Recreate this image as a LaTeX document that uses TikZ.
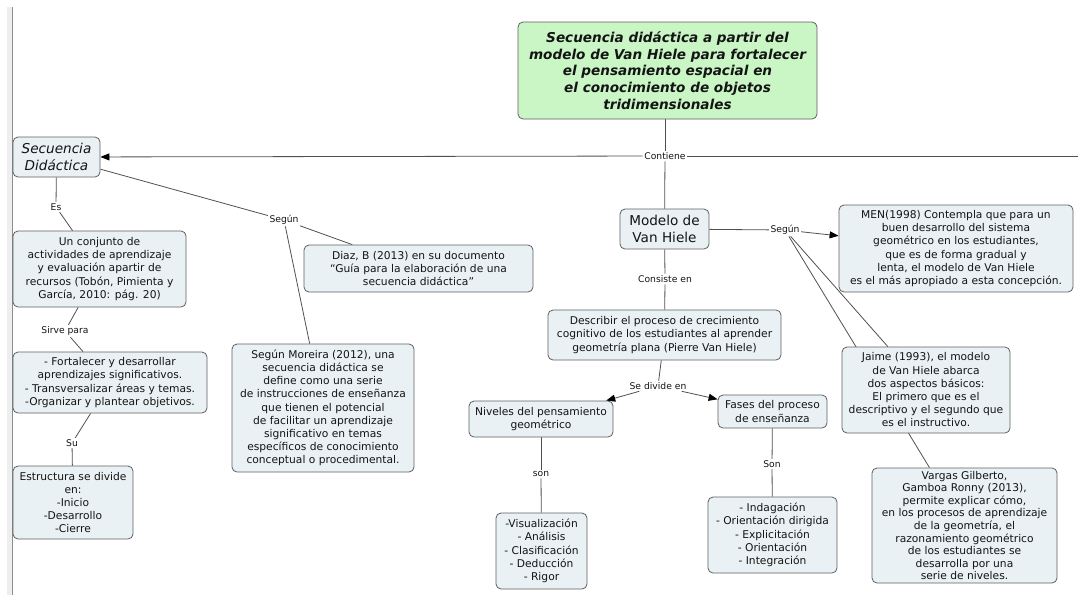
\documentclass[tikz,border=0pt]{standalone}
\usepackage{fontspec}
\setmainfont{DejaVu Sans}
\usetikzlibrary{arrows.meta}
\pgfdeclarelayer{bg}
\pgfsetlayers{bg,main}

\definecolor{boxfill}{RGB}{233,241,244}
\definecolor{boxline}{RGB}{95,95,95}
\definecolor{topfill}{RGB}{202,246,198}
\definecolor{linkcol}{RGB}{80,80,80}
\definecolor{txt}{RGB}{20,20,20}
\definecolor{strip}{RGB}{238,238,238}
\definecolor{stripline}{RGB}{140,140,145}

\tikzset{
  concept/.style={draw=boxline, fill=boxfill, line width=0.8pt, rounded corners=5pt,
    align=center, text=txt, inner sep=1pt, font=\fontsize{10.7}{13.2}\selectfont},
  bigconcept/.style={concept, font=\fontsize{13.6}{16.8}\selectfont\itshape},
  rootconcept/.style={concept, fill=topfill, font=\fontsize{13.6}{16.8}\selectfont\bfseries\itshape},
  linklabel/.style={fill=white, inner sep=1.5pt, text=txt, font=\fontsize{9.2}{11}\selectfont},
  link/.style={draw=linkcol, line width=0.8pt},
  arrowlink/.style={link, -{Triangle[length=9pt,width=7pt,color=black]}},
}

\begin{document}
\begin{tikzpicture}[x=1pt,y=-1pt]
\useasboundingbox (0,0) rectangle (1078,595);

% side strip of the page
\fill[strip] (7,7) rectangle (12,595);
\draw[stripline, line width=1.2pt] (12.6,7) -- (12.6,595);

% concepts
\node[rootconcept, minimum width=299, minimum height=97] (top) at (667.5,70.5)
  {Secuencia didáctica a partir del\\modelo de Van Hiele para fortalecer\\el pensamiento espacial en\\el conocimiento de objetos\\tridimensionales};

\node[bigconcept, minimum width=87, minimum height=40] (sec) at (56.5,157)
  {Secuencia\\Didáctica};

\node[concept, minimum width=173, minimum height=76] (conj) at (99.5,269)
  {Un conjunto de\\actividades de aprendizaje\\y evaluación apartir de\\recursos (Tobón, Pimienta y\\García, 2010: pág. 20)};

\node[concept, minimum width=194, minimum height=61] (fort) at (110,382.5)
  {- Fortalecer y desarrollar\\aprendizajes significativos.\\- Transversalizar áreas y temas.\\-Organizar y plantear objetivos.};

\node[concept, minimum width=120, minimum height=73] (estr) at (73,502.5)
  {Estructura se divide\\en:\\-Inicio\\-Desarrollo\\-Cierre};

\node[concept, minimum width=229, minimum height=47] (diaz) at (418.5,268.5)
  {Diaz, B (2013) en su documento\\“Guía para la elaboración de una\\secuencia didáctica”};

\node[concept, minimum width=182, minimum height=128] (mor) at (323,408)
  {Según Moreira (2012), una\\secuencia didáctica se\\define como una serie\\de instrucciones de enseñanza\\que tienen el potencial\\de facilitar un aprendizaje\\significativo en temas\\específicos de conocimiento\\conceptual o procedimental.};

\node[bigconcept, font=\fontsize{13.6}{16.8}\selectfont, minimum width=89, minimum height=40] (model) at (664.5,229)
  {Modelo de\\Van Hiele};

\node[concept, minimum width=233, minimum height=50] (desc) at (664.5,335)
  {Describir el proceso de crecimiento\\cognitivo de los estudiantes al aprender\\geometría plana (Pierre Van Hiele)};

\node[concept, minimum width=144, minimum height=36] (niv) at (541,419)
  {Niveles del pensamiento\\geométrico};

\node[concept, minimum width=91, minimum height=76] (vis) at (541.5,551)
  {-Visualización\\- Análisis\\- Clasificación\\- Deducción\\- Rigor};

\node[concept, minimum width=109, minimum height=33] (fases) at (772.5,411.5)
  {Fases del proceso\\de enseñanza};

\node[concept, minimum width=129, minimum height=76] (indag) at (772.5,535)
  {- Indagación\\- Orientación dirigida\\- Explicitación\\- Orientación\\- Integración};

\node[concept, minimum width=234, minimum height=87] (men) at (956,248.5)
  {MEN(1998) Contempla que para un\\buen desarrollo del sistema\\geométrico en los estudiantes,\\que es de forma gradual y\\lenta, el modelo de Van Hiele\\es el más apropiado a esta concepción.};

\node[concept, minimum width=168, minimum height=86] (jaime) at (926,390)
  {Jaime (1993), el modelo\\de Van Hiele abarca\\dos aspectos básicos:\\El primero que es el\\descriptivo y el segundo que\\es el instructivo.};

\node[concept, font=\fontsize{10.7}{12.6}\selectfont, minimum width=185, minimum height=115] (vargas) at (964.5,525.5)
  {Vargas Gilberto,\\Gamboa Ronny (2013),\\permite explicar cómo,\\en los procesos de aprendizaje\\de la geometría, el\\razonamiento geométrico\\de los estudiantes se\\desarrolla por una\\serie de niveles.};

% link phrases
\node[linklabel] (lcont) at (665,156) {Contiene};
\node[linklabel] (les) at (56,207) {Es};
\node[linklabel] (lsirve) at (65,331) {Sirve para};
\node[linklabel] (lsu) at (72,443) {Su};
\node[linklabel] (lsegA) at (284,220) {Según};
\node[linklabel] (lcons) at (665,279) {Consiste en};
\node[linklabel] (ldiv) at (658,386) {Se divide en};
\node[linklabel] (lson) at (541,474) {son};
\node[linklabel] (lSon) at (772,464) {Son};
\node[linklabel] (lsegB) at (785,230) {Según};

\coordinate (offright) at (1078,156);

% connectors, kept beneath the boxes
\begin{pgfonlayer}{bg}
  \draw[link] (lcont) -- (lcont |- top.south);
  \draw[arrowlink] (lcont) -- (sec);
  \draw[link] (lcont) -- (model);
  \draw[link] (lcont) -- (offright);

  \draw[link] (sec) -- (les);
  \draw[link] (les) -- (conj);
  \draw[link] (conj) -- (lsirve);
  \draw[link] (lsirve) -- (fort);
  \draw[link] (fort) -- (lsu);
  \draw[link] (lsu) -- (estr);

  \draw[link] (sec) -- (lsegA);
  \draw[link] (lsegA) -- (diaz);
  \draw[link] (lsegA) -- (mor);

  \draw[link] (model) -- (lcons);
  \draw[link] (lcons) -- (desc);
  \draw[link] (desc) -- (ldiv);
  \draw[arrowlink] (ldiv) -- (niv);
  \draw[arrowlink] (ldiv) -- (fases);
  \draw[link] (niv) -- (lson);
  \draw[link] (lson) -- (vis);
  \draw[link] (fases) -- (lSon);
  \draw[link] (lSon) -- (indag);

  \draw[link] (model) -- (lsegB);
  \draw[arrowlink] (lsegB) -- (men);
  \draw[link] (lsegB) -- (jaime);
  \draw[link] (lsegB) -- (vargas);
\end{pgfonlayer}
\end{tikzpicture}
\end{document}
